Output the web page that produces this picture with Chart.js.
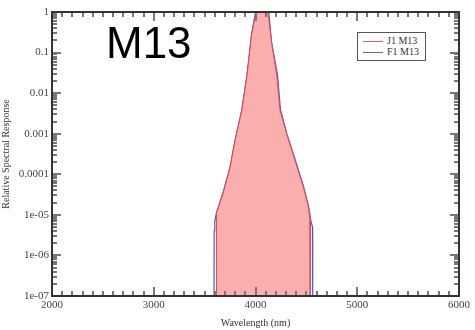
<!DOCTYPE html>
<html>
<head>
<meta charset="utf-8">
<script src="https://cdn.jsdelivr.net/npm/chart.js@4/dist/chart.umd.min.js"></script>
<style>
  html, body { margin: 0; padding: 0; background: #fff; }
  #wrap { position: relative; width: 475px; height: 330px; }
  #title-m13 {
    position: absolute; left: 106px; top: 13px;
    font-family: 'Liberation Sans', Arial, sans-serif; font-size: 44px; color: #000;
    line-height: 60px;
  }
  #legend {
    position: absolute; left: 357px; top: 32px; width: 67px; height: 27px;
    border: 1px solid #555; background: #fff;
    font-family: 'Liberation Serif', 'DejaVu Serif', serif; font-size: 10px; color: #333;
  }
  #legend .row { position: absolute; left: 5px; height: 11px; line-height: 11px; }
  #legend .sw { display: inline-block; width: 20px; height: 0; border-top: 1px solid; vertical-align: middle; margin-right: 4px; }
</style>
</head>
<body>
<div id="wrap">
  <canvas id="chart" width="475" height="330"></canvas>
  <div id="title-m13">M13</div>
  <div id="legend">
    <div class="row" style="top:2px"><span class="sw" style="border-color:#e06060"></span>J1 M13</div>
    <div class="row" style="top:13px"><span class="sw" style="border-color:#6060e0"></span>F1 M13</div>
  </div>
</div>
<script>
/* ─── data ────────────────────────────────────────────────────── */
const j1Wavelength = [3612, 3614, 3619, 3638, 3684, 3750, 3799, 3865, 3914, 3963, 4005, 4123, 4159, 4208, 4241, 4307, 4388, 4470, 4519, 4536, 4538];
const j1Response   = [1e-7, 6e-6, 1.1e-5, 1.6e-5, 3.6e-5, 1.5e-4, 7e-4, 3.8e-3, 0.025, 0.3, 1, 1, 0.17, 0.03, 3.8e-3, 1e-3, 2.2e-4, 4.9e-5, 1.6e-5, 7.5e-6, 1e-7];

const f1Wavelength = [3592, 3594, 3600, 3615, 3640, 3684, 3750, 3800, 3865, 3914, 3963, 4000, 4130, 4159, 4215, 4245, 4307, 4390, 4472, 4522, 4545, 4560, 4562];
const f1Response   = [1e-7, 4e-6, 7e-6, 1.1e-5, 1.7e-5, 3.8e-5, 1.5e-4, 7e-4, 3.8e-3, 0.025, 0.3, 1, 1, 0.17, 0.03, 4e-3, 1e-3, 2.3e-4, 5e-5, 1.6e-5, 7e-6, 5e-6, 1e-7];

const xTicks      = [2000, 3000, 4000, 5000, 6000];
const yTicks      = [1e-7, 1e-6, 1e-5, 1e-4, 1e-3, 0.01, 0.1, 1];
const yTickLabels = ['1e-07', '1e-06', '1e-05', '0.0001', '0.001', '0.01', '0.1', '1'];

const toPoints = (xs, ys) => xs.map((x, i) => ({ x, y: ys[i] }));

/* frame + inward ticks, like the xmgrace original */
const frameTicks = {
  id: 'frameTicks',
  afterDraw(chart) {
    const ctx = chart.ctx;
    const a = chart.chartArea;
    const sx = chart.scales.x, sy = chart.scales.y;
    const L = Math.round(a.left), R = Math.round(a.right);
    const T = Math.round(a.top), B = Math.round(a.bottom);
    ctx.save();
    ctx.fillStyle = '#777';
    for (let v = 2000; v <= 6000; v += 100) {
      const px = Math.round(sx.getPixelForValue(v));
      const len = v % 1000 === 0 ? 9 : 5;
      ctx.fillRect(px - 1, B - len, 2, len);
      ctx.fillRect(px - 1, T, 2, len);
    }
    for (let e = -7; e <= 0; e++) {
      for (let m = 1; m <= 9; m++) {
        const v = m * Math.pow(10, e);
        if (v > 1.0001) break;
        const py = Math.round(sy.getPixelForValue(v));
        const len = m === 1 ? 9 : 5;
        ctx.fillRect(L, py - 1, len, 2);
        ctx.fillRect(R - len, py - 1, len, 2);
      }
    }
    ctx.fillStyle = '#333';
    ctx.fillRect(L - 1, T - 1, R - L + 2, 2);
    ctx.fillRect(L - 1, B - 1, R - L + 2, 2);
    ctx.fillRect(L - 1, T - 1, 2, B - T + 1);
    ctx.fillRect(R - 1, T - 1, 2, B - T + 1);
    ctx.restore();
  }
};

const serif = { family: "'Liberation Serif', 'DejaVu Serif', serif", size: 11 };

new Chart(document.getElementById('chart').getContext('2d'), {
  type: 'line',
  data: {
    datasets: [
      {
        label: 'J1 M13',
        data: toPoints(j1Wavelength, j1Response),
        borderColor: '#e04848',
        backgroundColor: 'rgba(250,160,160,0.85)',
        borderWidth: 1,
        pointRadius: 0,
        tension: 0,
        fill: 'start',
      },
      {
        label: 'F1 M13',
        data: toPoints(f1Wavelength, f1Response),
        borderColor: '#5050e0',
        borderWidth: 1.2,
        pointRadius: 0,
        tension: 0,
        fill: false,
      },
    ],
  },
  options: {
    responsive: false,
    animation: false,
    layout: { padding: { left: 0, right: 16, top: 12, bottom: 0 } },
    plugins: { legend: { display: false }, tooltip: { enabled: false } },
    scales: {
      x: {
        type: 'linear',
        min: 2000, max: 6000,
        afterBuildTicks: s => { s.ticks = xTicks.map(v => ({ value: v })); },
        afterFit: s => { s.height = 34; },
        grid: { display: false, drawTicks: false },
        border: { display: false },
        ticks: { color: '#444', font: serif, padding: 3, maxRotation: 0, callback: v => String(v) },
        title: { display: true, text: 'Wavelength (nm)', color: '#333', font: { ...serif, size: 10 }, padding: { top: 0, bottom: 1 } },
      },
      y: {
        type: 'logarithmic',
        min: 1e-7, max: 1,
        afterBuildTicks: s => { s.ticks = yTicks.map(v => ({ value: v })); },
        afterFit: s => { s.width = 52; },
        grid: { display: false, drawTicks: false },
        border: { display: false },
        ticks: {
          color: '#444', font: serif, padding: 3,
          callback: v => yTickLabels[yTicks.findIndex(t => Math.abs(t - v) / t < 1e-6)] ?? '',
        },
        title: { display: true, text: 'Relative Spectral Response', color: '#333', font: { ...serif, size: 10 }, padding: { top: 0, bottom: 0 } },
      },
    },
  },
  plugins: [frameTicks],
});
</script>
</body>
</html>
